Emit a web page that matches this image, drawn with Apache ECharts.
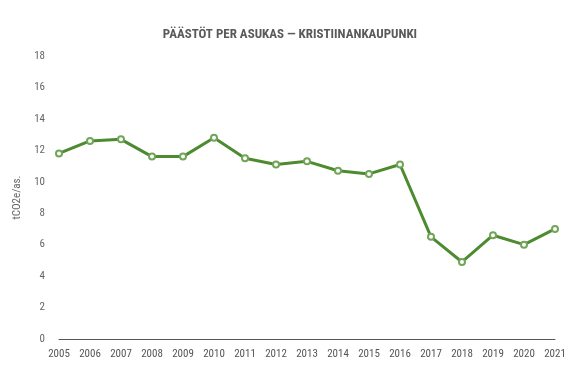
<!DOCTYPE html>
<html><head><meta charset="utf-8">
<script src="https://cdn.jsdelivr.net/npm/echarts@6/dist/echarts.min.js"></script>
<style>html,body{margin:0;padding:0;background:#fff}#c{width:570px;height:380px}</style>
</head><body><div id="c"></div>
<script>
const years = ['2005','2006','2007','2008','2009','2010','2011','2012','2013','2014','2015','2016','2017','2018','2019','2020','2021'];
const values = [11.8,12.6,12.7,11.6,11.6,12.8,11.5,11.1,11.3,10.7,10.5,11.1,6.5,4.9,6.6,6.0,7.0];
const yTicks = [0,2,4,6,8,10,12,14,16,18];
const titleText = 'PÄÄSTÖT PER ASUKAS — KRISTIINANKAUPUNKI';
const yName = 'tCO2e/as.';
const font = '"Liberation Sans Narrow","Roboto Condensed","Liberation Sans",sans-serif';
const chart = echarts.init(document.getElementById('c'), null, {renderer:'canvas'});
chart.setOption({
  animation:false,
  title:{text:titleText,left:285,textAlign:'center',top:23,textStyle:{fontFamily:font,fontSize:13,fontWeight:'bold',color:'#5a5a5a'}},
  grid:{left:59,right:15,top:56,bottom:41},
  xAxis:{type:'category',data:years,boundaryGap:false,
    axisLine:{lineStyle:{color:'#555',width:1}},axisTick:{show:false},
    axisLabel:{fontFamily:font,fontSize:11,color:'#555',margin:10,interval:0}},
  yAxis:{type:'value',min:0,max:18,interval:2,
    name:yName,nameLocation:'middle',nameGap:32,nameTextStyle:{fontFamily:font,fontSize:11,color:'#666'},
    axisLine:{show:false},axisTick:{show:false},splitLine:{show:false},
    axisLabel:{fontFamily:font,fontSize:11,color:'#666',margin:14,
      formatter:v=>yTicks.includes(v)?String(v):''}},
  series:[{type:'line',data:values,symbol:'emptyCircle',symbolSize:6,
    lineStyle:{color:'#4c8b2f',width:3},
    itemStyle:{color:'#72a45a',borderWidth:1.3}}]
});
</script></body></html>
